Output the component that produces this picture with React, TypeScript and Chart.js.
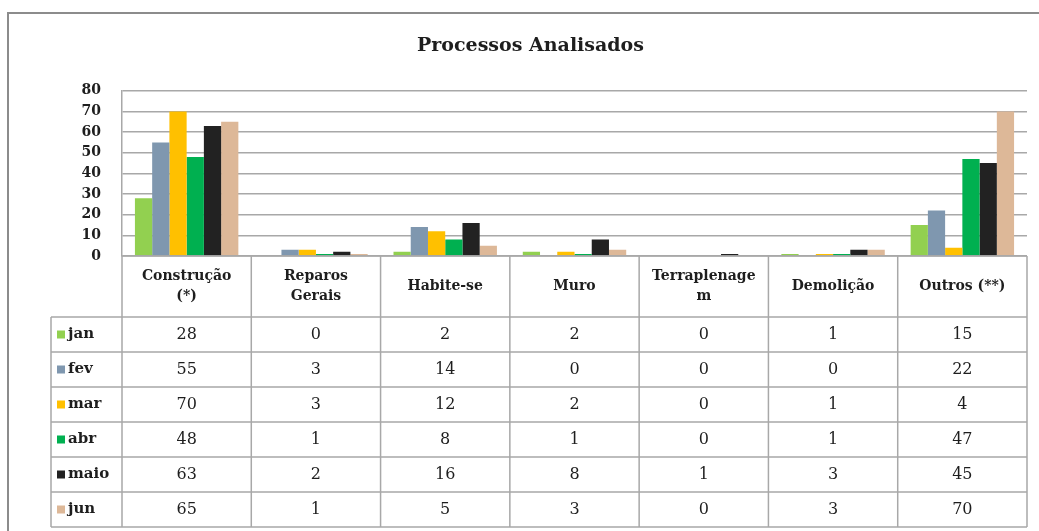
import React, { useEffect, useRef } from 'react';
import { Chart, registerables } from 'chart.js';

Chart.register(...registerables);

const categories: string[][] = [
  ['Construção', '(*)'],
  ['Reparos', 'Gerais'],
  ['Habite-se'],
  ['Muro'],
  ['Terraplenage', 'm'],
  ['Demolição'],
  ['Outros (**)'],
];

const seriesNames = ['jan', 'fev', 'mar', 'abr', 'maio', 'jun'];
const jan = [28, 0, 2, 2, 0, 1, 15];
const fev = [55, 3, 14, 0, 0, 0, 22];
const mar = [70, 3, 12, 2, 0, 1, 4];
const abr = [48, 1, 8, 1, 0, 1, 47];
const maio = [63, 2, 16, 8, 1, 3, 45];
const jun = [65, 1, 5, 3, 0, 3, 70];
const seriesValues = [jan, fev, mar, abr, maio, jun];
const seriesColors = ['#92D050', '#7F97AF', '#FFC000', '#00B050', '#222222', '#DDB898'];

const yMin = 0;
const yMax = 80;
const yStep = 10;

const SERIF = '"DejaVu Serif", serif';
const GRID = '#A8A8A8';
const TEXT = '#1E1E1E';

const framePlugin = {
  id: 'frame',
  beforeDraw(chart: any) {
    const { ctx, width, height } = chart;
    ctx.save();
    ctx.fillStyle = '#FFFFFF';
    ctx.fillRect(0, 0, width, height);
    ctx.strokeStyle = '#8C8C8C';
    ctx.lineWidth = 2;
    ctx.beginPath();
    ctx.moveTo(8, height);
    ctx.lineTo(8, 13);
    ctx.lineTo(width, 13);
    ctx.stroke();
    ctx.restore();
  },
};

const tablePlugin = {
  id: 'dataTable',
  afterDraw(chart: any) {
    const { ctx, chartArea } = chart;
    const xScale = chart.scales.x;
    const n = categories.length;
    const left = chartArea.left;
    const right = chartArea.right;
    const top = chartArea.bottom;
    const cw = (right - left) / n;
    const headerH = 61;
    const rowH = 35;
    const legendLeft = 51;
    const rowsTop = top + headerH;
    const bottom = rowsTop + rowH * seriesNames.length;

    ctx.save();
    ctx.strokeStyle = GRID;
    ctx.lineWidth = 1.5;
    ctx.beginPath();
    for (let i = 0; i <= n; i++) {
      const xx = left + i * cw;
      ctx.moveTo(xx, top);
      ctx.lineTo(xx, bottom);
    }
    ctx.moveTo(left, top);
    ctx.lineTo(right, top);
    for (let r = 0; r <= seriesNames.length; r++) {
      const yy = rowsTop + r * rowH;
      ctx.moveTo(legendLeft, yy);
      ctx.lineTo(right, yy);
    }
    ctx.moveTo(legendLeft, rowsTop);
    ctx.lineTo(legendLeft, bottom);
    ctx.stroke();

    ctx.fillStyle = TEXT;
    ctx.textAlign = 'center';
    ctx.textBaseline = 'middle';
    ctx.font = `bold 14px ${SERIF}`;
    categories.forEach((lines, i) => {
      const cx = xScale.getPixelForValue(i);
      const cy = top + headerH / 2;
      const lh = 20;
      lines.forEach((line, k) => {
        const yy = cy + (k - (lines.length - 1) / 2) * lh;
        ctx.fillText(line, cx, yy);
      });
    });

    seriesNames.forEach((name, r) => {
      const cy = rowsTop + r * rowH + rowH / 2;
      ctx.fillStyle = seriesColors[r];
      ctx.fillRect(57, cy - 4, 8, 8);
      ctx.fillStyle = TEXT;
      ctx.textAlign = 'left';
      ctx.font = `bold 15px ${SERIF}`;
      ctx.fillText(name, 68, cy);
      ctx.textAlign = 'center';
      ctx.font = `16px ${SERIF}`;
      seriesValues[r].forEach((v, i) => {
        ctx.fillText(String(v), xScale.getPixelForValue(i), cy);
      });
    });
    ctx.restore();
  },
};

export default function App() {
  const ref = useRef<HTMLCanvasElement | null>(null);

  useEffect(() => {
    if (!ref.current) return;
    const chart = new Chart(ref.current, {
      type: 'bar',
      data: {
        labels: categories,
        datasets: seriesNames.map((name, i) => ({
          label: name,
          data: seriesValues[i],
          backgroundColor: seriesColors[i],
          borderWidth: 0,
          categoryPercentage: 0.8,
          barPercentage: 1.0,
        })),
      },
      options: {
        responsive: false,
        animation: false,
        devicePixelRatio: 1,
        layout: { padding: { left: 34, right: 12, top: 0, bottom: 275 } },
        plugins: {
          legend: { display: false },
          tooltip: { enabled: false },
          title: {
            display: true,
            text: 'Processos Analisados',
            color: TEXT,
            font: { family: SERIF, size: 19, weight: 'bold' },
            padding: { top: 35, bottom: 33 },
          },
        },
        scales: {
          x: {
            display: true,
            ticks: { display: false },
            grid: { display: false, drawTicks: false },
            border: { display: false },
          },
          y: {
            min: yMin,
            max: yMax,
            ticks: {
              stepSize: yStep,
              padding: 21,
              color: TEXT,
              font: { family: SERIF, size: 14, weight: 'bold' },
            },
            grid: { color: GRID, lineWidth: 1.5, drawTicks: false },
            border: { display: true, color: GRID, width: 1.5 },
            afterFit(scale: any) {
              scale.width = 88;
            },
          },
        },
      },
      plugins: [framePlugin, tablePlugin],
    } as any);
    return () => chart.destroy();
  }, []);

  return (
    <div style={{ position: 'absolute', left: 0, top: 0, width: 1039, height: 531, overflow: 'hidden' }}>
      <canvas ref={ref} width={1039} height={531} style={{ display: 'block' }} />
    </div>
  );
}
